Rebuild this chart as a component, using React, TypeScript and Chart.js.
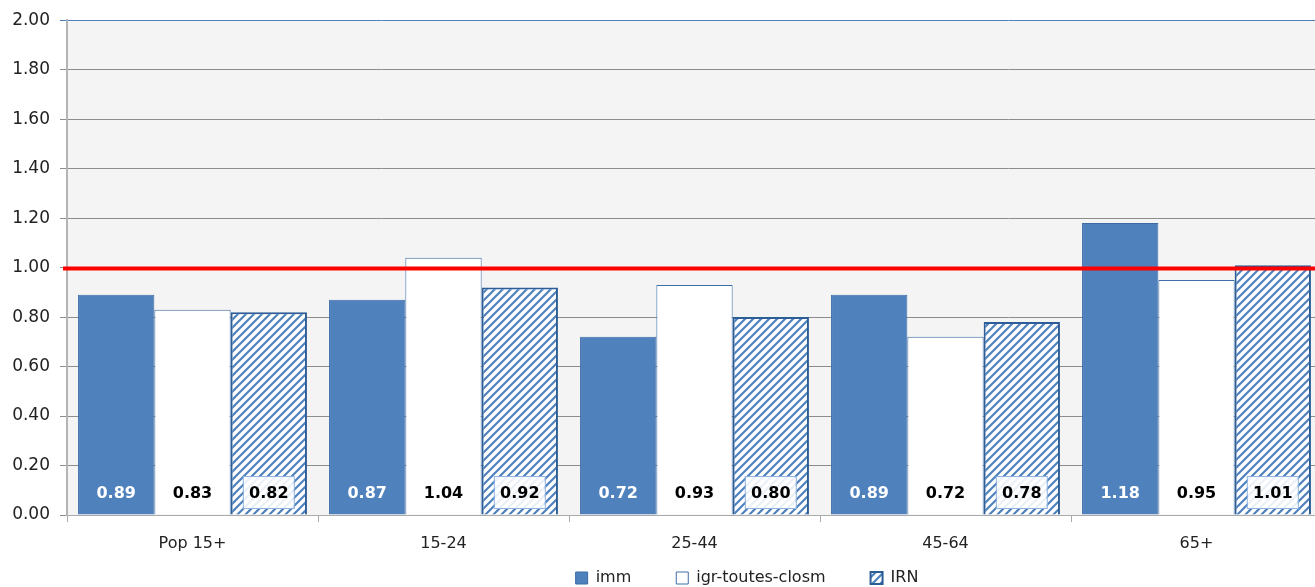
import React, { useEffect, useRef } from "react";
import { Chart, registerables } from "chart.js";

Chart.register(...registerables);

const categories = ["Pop 15+", "15-24", "25-44", "45-64", "65+"];
const immValues = [0.89, 0.87, 0.72, 0.89, 1.18];
const igrValues = [0.83, 1.04, 0.93, 0.72, 0.95];
const irnValues = [0.82, 0.92, 0.8, 0.78, 1.01];
const seriesNames = ["imm", "igr-toutes-closm", "IRN"];
const referenceLevel = 1.0;
const yTicks = [0, 0.2, 0.4, 0.6, 0.8, 1.0, 1.2, 1.4, 1.6, 1.8, 2.0];

const FONT = "'DejaVu Sans', Verdana, sans-serif";

function makeHatch(): CanvasPattern | string {
  const c = document.createElement("canvas");
  c.width = 8;
  c.height = 8;
  const g = c.getContext("2d");
  if (!g) return "#4f81bd";
  g.fillStyle = "#ffffff";
  g.fillRect(0, 0, 8, 8);
  g.strokeStyle = "#4f81bd";
  g.lineWidth = 2.2;
  g.beginPath();
  g.moveTo(-2, 10);
  g.lineTo(10, -2);
  g.moveTo(-6, 6);
  g.lineTo(6, -6);
  g.moveTo(2, 14);
  g.lineTo(14, 2);
  g.stroke();
  return g.createPattern(c, "repeat") || "#4f81bd";
}

export default function App() {
  const ref = useRef<HTMLCanvasElement | null>(null);

  useEffect(() => {
    if (!ref.current) return;
    const hatch = makeHatch();

    const bgPlugin = {
      id: "plotBg",
      beforeDraw(chart: any) {
        const { ctx, chartArea } = chart;
        ctx.save();
        ctx.fillStyle = "#f4f4f4";
        ctx.fillRect(chartArea.left, chartArea.top, chartArea.right - chartArea.left, chartArea.bottom - chartArea.top);
        ctx.restore();
      },
    };

    const refLinePlugin = {
      id: "refLine",
      afterDatasetsDraw(chart: any) {
        const { ctx, chartArea, scales } = chart;
        const y = scales.y.getPixelForValue(referenceLevel) + 1;
        ctx.save();
        ctx.strokeStyle = "#ff0000";
        ctx.lineWidth = 4;
        ctx.beginPath();
        ctx.moveTo(chartArea.left - 4, y);
        ctx.lineTo(chartArea.right, y);
        ctx.stroke();
        ctx.restore();
      },
    };

    const labelPlugin = {
      id: "valueLabels",
      afterDraw(chart: any) {
        const { ctx, scales } = chart;
        const y0 = scales.y.getPixelForValue(0) - 22;
        ctx.save();
        ctx.font = "bold 16px " + FONT;
        ctx.textAlign = "center";
        ctx.textBaseline = "middle";
        chart.data.datasets.forEach((ds: any, di: number) => {
          const meta = chart.getDatasetMeta(di);
          meta.data.forEach((bar: any, i: number) => {
            const txt = Number(ds.data[i]).toFixed(2);
            const x = bar.x;
            if (di === 2) {
              ctx.fillStyle = "rgba(255,255,255,0.88)";
              ctx.fillRect(x - 25, y0 - 16, 50, 32);
              ctx.strokeStyle = "#8eb4e3";
              ctx.lineWidth = 1;
              ctx.strokeRect(x - 25.5, y0 - 16.5, 51, 32);
            }
            ctx.fillStyle = di === 0 ? "#ffffff" : "#000000";
            ctx.fillText(txt, x, y0 + 1);
          });
        });
        ctx.restore();
      },
    };

    const legendShift = {
      id: "legendShift",
      afterLayout(chart: any) {
        const lg = chart.legend;
        if (lg) {
          lg.left += 86;
          lg.right += 86;
          lg.top -= 33;
          lg.bottom = chart.height;
        }
      },
    };

    const chart = new Chart(ref.current, {
      type: "bar",
      data: {
        labels: categories,
        datasets: [
          {
            label: seriesNames[0],
            data: immValues,
            backgroundColor: "#4f81bd",
            borderColor: "#3c6ca6",
            borderWidth: 1,
          },
          {
            label: seriesNames[1],
            data: igrValues,
            backgroundColor: "#ffffff",
            borderColor: "#3d6ea8",
            borderWidth: 1,
          },
          {
            label: seriesNames[2],
            data: irnValues,
            backgroundColor: hatch as any,
            borderColor: "#2c5d96",
            borderWidth: 2,
          },
        ],
      },
      options: {
        responsive: false,
        animation: false,
        devicePixelRatio: 1,
        categoryPercentage: 0.912,
        barPercentage: 1,
        layout: { padding: { top: 12, left: 0, right: 0, bottom: 0 } },
        plugins: {
          legend: {
            position: "bottom",
            maxHeight: 29,
            labels: {
              font: { family: FONT, size: 16 },
              color: "#222",
              boxWidth: 12,
              boxHeight: 12,
              padding: 45,
            },
          },
          tooltip: { enabled: false },
        },
        scales: {
          x: {
            offset: true,
            grid: {
              offset: true,
              drawOnChartArea: false,
              tickLength: 7,
              color: "#aaaaaa",
            },
            border: { color: "#aaaaaa", width: 1 },
            ticks: {
              font: { family: FONT, size: 16 },
              color: "#222",
              padding: 12,
            },
            afterFit(scale: any) {
              scale.height = 43;
            },
          },
          y: {
            min: 0,
            max: 2,
            afterBuildTicks(scale: any) {
              scale.ticks = yTicks.map((v) => ({ value: v }));
            },
            grid: {
              color: (c: any) => (c.tick && Math.abs(c.tick.value - 2) < 1e-6 ? "#4f81bd" : "#8c8c8c"),
              tickLength: 7,
            },
            border: { color: "#b4b4b4", width: 2 },
            ticks: {
              font: { family: FONT, size: 17 },
              color: "#222",
              padding: 10,
              callback: (v: any) => Number(v).toFixed(2),
            },
            afterFit(scale: any) {
              scale.width = 67;
            },
          },
        },
      },
      plugins: [bgPlugin, refLinePlugin, labelPlugin, legendShift],
    });
    return () => chart.destroy();
  }, []);

  return (
    <div style={{ position: "fixed", left: 0, top: 0, width: 1315, height: 587, overflow: "hidden", background: "#fff" }}>
      <canvas ref={ref} width={1322} height={587} style={{ display: "block" }} />
    </div>
  );
}
